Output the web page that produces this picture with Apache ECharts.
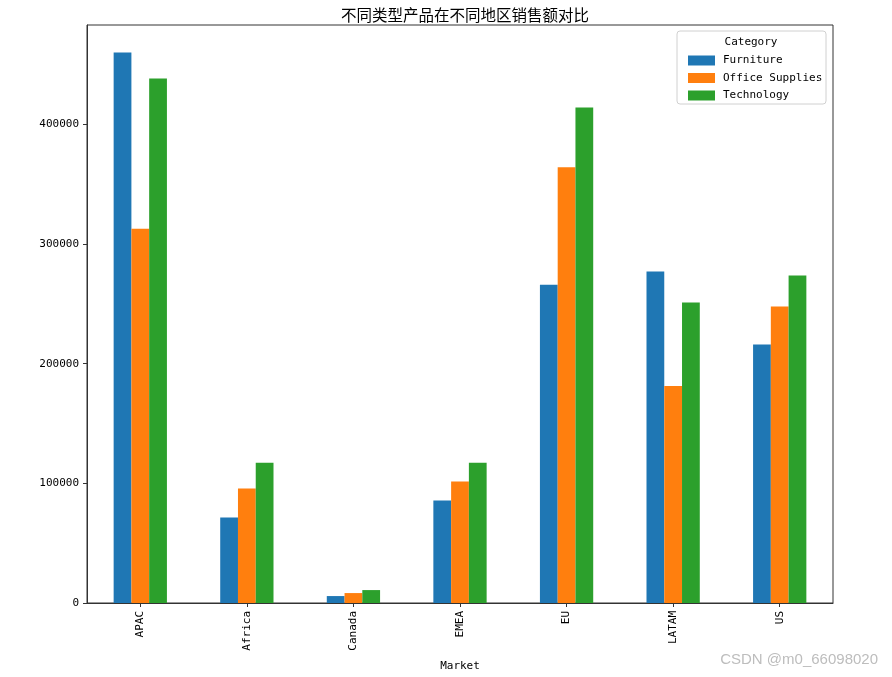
<!DOCTYPE html>
<html>
<head>
<meta charset="utf-8">
<script src="https://cdn.jsdelivr.net/npm/echarts@6/dist/echarts.min.js"></script>
<style>html,body{margin:0;padding:0;background:#fff;}#c{width:892px;height:677px;}</style>
</head>
<body>
<div id="c"></div>
<script>
const categories = ['APAC', 'Africa', 'Canada', 'EMEA', 'EU', 'LATAM', 'US'];
const furniture = [460000, 71500, 5800, 85700, 266000, 277000, 216000];
const officeSupplies = [312700, 95600, 8300, 101500, 364200, 181300, 247800];
const technology = [438300, 117300, 10800, 117300, 414100, 251100, 273600];
const yTicks = [0, 100000, 200000, 300000, 400000];
const seriesNames = ['Furniture', 'Office Supplies', 'Technology'];
const colors = ['#1f77b4', '#ff7f0e', '#2ca02c'];

const mono = 'DejaVu Sans Mono';
const chart = echarts.init(document.getElementById('c'), null, {renderer: 'canvas'});
const axisLine = {show: true, lineStyle: {color: '#333', width: 1}};
chart.setOption({
  animation: false,
  color: colors,
  title: {
    text: '不同类型产品在不同地区销售额对比',
    left: 460, top: 2, textAlign: 'center',
    textStyle: {fontFamily: 'Noto Sans CJK SC', fontSize: 15.5, fontWeight: 'normal', color: '#000'}
  },
  grid: {left: 87, top: 25, width: 746, height: 580, show: true, borderColor: '#333', borderWidth: 1, containLabel: false},
  legend: {
    orient: 'vertical', left: 683, top: 50,
    itemWidth: 27, itemHeight: 10, itemGap: 6.5,
    icon: 'rect',
    textStyle: {fontFamily: mono, fontSize: 11, color: '#000', lineHeight: 10, padding: [0, 0, 0, 3]},
    data: seriesNames
  },
  graphic: [
    {type: 'rect', z: 0, shape: {x: 677, y: 31, width: 149, height: 73, r: 3}, style: {fill: 'rgba(255,255,255,0.8)', stroke: '#d0d0d0', lineWidth: 1}},
    {type: 'text', z: 1, x: 751, y: 42, style: {text: 'Category', fontFamily: mono, fontSize: 11, fill: '#000', align: 'center', verticalAlign: 'middle'}},
    {type: 'text', z: 1, x: 878, y: 660, style: {text: 'CSDN @m0_66098020', fontFamily: 'Liberation Sans', fontSize: 15, fill: '#bdbdbd', align: 'right', verticalAlign: 'middle'}}
  ],
  xAxis: {
    type: 'category', data: categories,
    name: 'Market', nameLocation: 'middle', nameGap: 58,
    nameTextStyle: {fontFamily: mono, fontSize: 11, color: '#000'},
    axisLine: axisLine,
    axisTick: {show: true, alignWithLabel: true, length: 4, lineStyle: {color: '#333'}},
    axisLabel: {rotate: 90, fontFamily: mono, fontSize: 11, color: '#000', margin: 8},
    splitLine: {show: false}
  },
  yAxis: {
    type: 'value', min: 0, max: 483000, interval: 100000,
    axisLine: axisLine,
    axisTick: {show: true, length: 4, lineStyle: {color: '#333'}, customValues: yTicks},
    axisLabel: {fontFamily: mono, fontSize: 11, color: '#000', margin: 8, customValues: yTicks,
      formatter: function (v) { return String(v); }},
    splitLine: {show: false}
  },
  series: [
    {name: seriesNames[0], type: 'bar', data: furniture, barGap: '0%', barCategoryGap: '50%'},
    {name: seriesNames[1], type: 'bar', data: officeSupplies, barGap: '0%', barCategoryGap: '50%'},
    {name: seriesNames[2], type: 'bar', data: technology, barGap: '0%', barCategoryGap: '50%'}
  ]
});
</script>
</body>
</html>
